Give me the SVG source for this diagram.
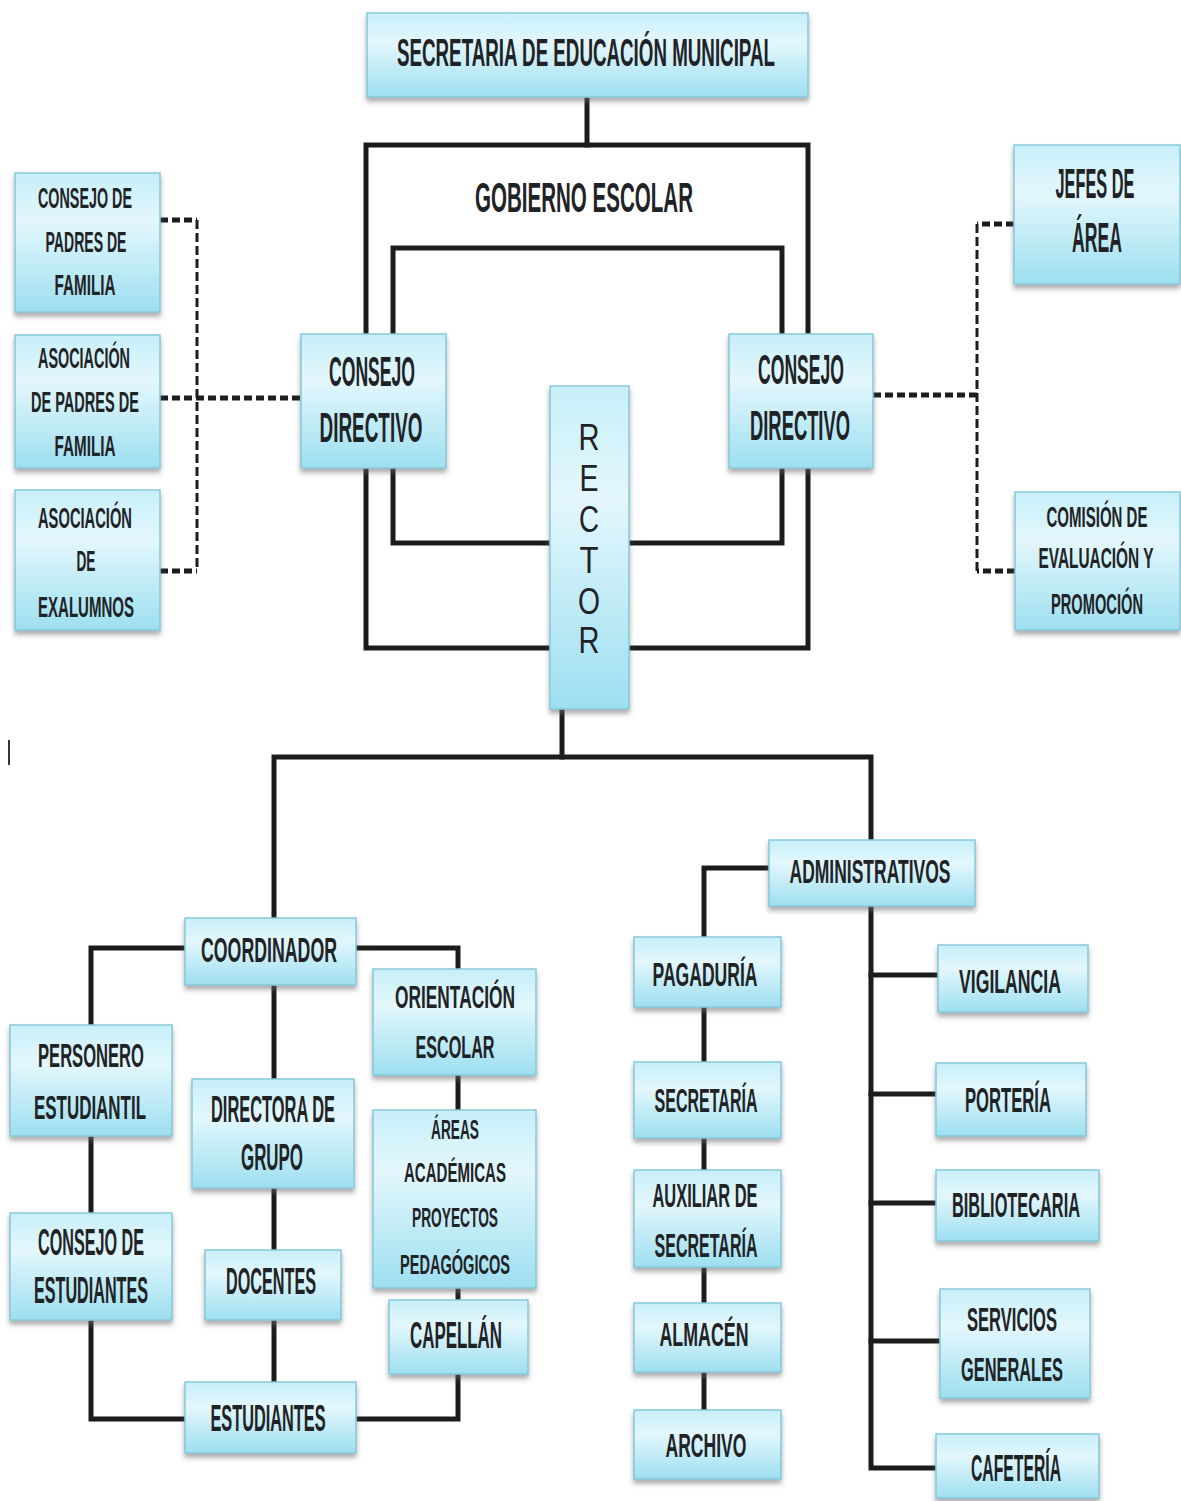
<svg xmlns="http://www.w3.org/2000/svg" width="1181" height="1501" viewBox="0 0 1181 1501">
<style>
.box{fill:url(#g);stroke:#86c9da;stroke-width:1.5;filter:url(#sh)}
.t{font-family:"Liberation Sans Narrow","Liberation Sans","DejaVu Sans Condensed",sans-serif;font-weight:bold;fill:#1f2326;text-anchor:middle}
.r{font-family:"Liberation Sans","DejaVu Sans",sans-serif;font-weight:normal;fill:#1f2326;text-anchor:middle;font-size:36px}
.ln{fill:none;stroke:#1c1c1c;stroke-width:5;stroke-linejoin:miter;stroke-linecap:square}
.dl{fill:none;stroke:#1c1c1c;stroke-width:5;stroke-dasharray:8 4}
.dv{fill:none;stroke:#1c1c1c;stroke-width:3;stroke-dasharray:9 4}
</style>
<defs>
<linearGradient id="g" x1="0" y1="0" x2="0" y2="1">
<stop offset="0" stop-color="#c8eff9"/>
<stop offset="0.35" stop-color="#e3f7fc"/>
<stop offset="1" stop-color="#9ddff0"/>
</linearGradient>
<filter id="sh" x="-10%" y="-10%" width="120%" height="130%">
<feDropShadow dx="0" dy="4" stdDeviation="2.5" flood-color="#6a6a6a" flood-opacity="0.55"/>
</filter>
</defs>
<rect width="1181" height="1501" fill="#ffffff"/>

<g id="connectors">
<path class="ln" d="M587 97 V145"/>
<path class="ln" d="M366 334 V145 H808 V334"/>
<path class="ln" d="M393 334 V248 H782 V334"/>
<path class="ln" d="M366 468 V648 H550"/>
<path class="ln" d="M393 468 V543 H550"/>
<path class="ln" d="M808 468 V648 H629"/>
<path class="ln" d="M782 468 V543 H629"/>
<path class="dl" d="M160 220 H197"/>
<path class="dl" d="M160 571 H197"/>
<path class="dv" d="M197 220 V571"/>
<path class="dl" d="M160 398 H301"/>
<path class="dl" d="M1014 224 H977"/>
<path class="dl" d="M1015 571 H977"/>
<path class="dv" d="M977 224 V571"/>
<path class="dl" d="M873 395 H977"/>
<path class="ln" d="M562 709 V757"/>
<path class="ln" d="M274 918 V757 H871 V840"/>
<path class="ln" d="M185 948 H91 V1025"/>
<path class="ln" d="M356 948 H458 V969"/>
<path class="ln" d="M274 985 V1079"/>
<path class="ln" d="M91 1136 V1213"/>
<path class="ln" d="M91 1320 V1419 H185"/>
<path class="ln" d="M356 1419 H458 V1374"/>
<path class="ln" d="M458 1075 V1110"/>
<path class="ln" d="M458 1288 V1300"/>
<path class="ln" d="M274 1188 V1250"/>
<path class="ln" d="M274 1320 V1382"/>
<path class="ln" d="M769 868 H704 V937"/>
<path class="ln" d="M704 1007 V1062"/>
<path class="ln" d="M704 1138 V1170"/>
<path class="ln" d="M704 1267 V1303"/>
<path class="ln" d="M704 1372 V1410"/>
<path class="ln" d="M871 906 V1468 H936"/>
<path class="ln" d="M871 975 H938"/>
<path class="ln" d="M871 1094 H936"/>
<path class="ln" d="M871 1203 H936"/>
<path class="ln" d="M871 1341 H940"/>
<path d="M9 740 V765" stroke="#333" stroke-width="2"/>
</g>

<g id="secretaria-educacion">
<rect class="box" x="367" y="13" width="441" height="84"/>
<text class="t" x="586" y="66" font-size="38" textLength="378" lengthAdjust="spacingAndGlyphs">SECRETARIA DE EDUCACIÓN MUNICIPAL</text>
</g>

<g id="gobierno-escolar">
<text class="t" x="584" y="212" font-size="42" textLength="218" lengthAdjust="spacingAndGlyphs">GOBIERNO ESCOLAR</text>
</g>

<g id="consejo-directivo-izq">
<rect class="box" x="301" y="334" width="145" height="134"/>
<text class="t" x="372" y="386" font-size="42" textLength="86" lengthAdjust="spacingAndGlyphs">CONSEJO</text>
<text class="t" x="371" y="442" font-size="42" textLength="103" lengthAdjust="spacingAndGlyphs">DIRECTIVO</text>
</g>

<g id="consejo-directivo-der">
<rect class="box" x="729" y="334" width="144" height="134"/>
<text class="t" x="801" y="384" font-size="42" textLength="86" lengthAdjust="spacingAndGlyphs">CONSEJO</text>
<text class="t" x="800" y="440" font-size="42" textLength="100" lengthAdjust="spacingAndGlyphs">DIRECTIVO</text>
</g>

<g id="rector">
<rect class="box" x="550" y="386" width="79" height="323"/>
<text class="r" x="589" y="450" textLength="21" lengthAdjust="spacingAndGlyphs">R</text>
<text class="r" x="589" y="491" textLength="19" lengthAdjust="spacingAndGlyphs">E</text>
<text class="r" x="589" y="532" textLength="20" lengthAdjust="spacingAndGlyphs">C</text>
<text class="r" x="589" y="573" textLength="19" lengthAdjust="spacingAndGlyphs">T</text>
<text class="r" x="589" y="614" textLength="22" lengthAdjust="spacingAndGlyphs">O</text>
<text class="r" x="589" y="653" textLength="21" lengthAdjust="spacingAndGlyphs">R</text>
</g>

<g id="consejo-padres">
<rect class="box" x="15" y="173" width="145" height="139"/>
<text class="t" x="85" y="208" font-size="29" textLength="94" lengthAdjust="spacingAndGlyphs">CONSEJO DE</text>
<text class="t" x="86" y="252" font-size="29" textLength="81" lengthAdjust="spacingAndGlyphs">PADRES DE</text>
<text class="t" x="85" y="295" font-size="29" textLength="61" lengthAdjust="spacingAndGlyphs">FAMILIA</text>
</g>

<g id="asociacion-padres">
<rect class="box" x="15" y="335" width="145" height="133"/>
<text class="t" x="84" y="368" font-size="29" textLength="92" lengthAdjust="spacingAndGlyphs">ASOCIACIÓN</text>
<text class="t" x="85" y="412" font-size="29" textLength="108" lengthAdjust="spacingAndGlyphs">DE PADRES DE</text>
<text class="t" x="85" y="456" font-size="29" textLength="61" lengthAdjust="spacingAndGlyphs">FAMILIA</text>
</g>

<g id="asociacion-exalumnos">
<rect class="box" x="15" y="490" width="145" height="140"/>
<text class="t" x="85" y="528" font-size="29" textLength="94" lengthAdjust="spacingAndGlyphs">ASOCIACIÓN</text>
<text class="t" x="86" y="571" font-size="29" textLength="19" lengthAdjust="spacingAndGlyphs">DE</text>
<text class="t" x="86" y="617" font-size="29" textLength="96" lengthAdjust="spacingAndGlyphs">EXALUMNOS</text>
</g>

<g id="jefes-area">
<rect class="box" x="1014" y="145" width="166" height="139"/>
<text class="t" x="1095" y="198" font-size="42" textLength="79" lengthAdjust="spacingAndGlyphs">JEFES DE</text>
<text class="t" x="1097" y="252" font-size="42" textLength="50" lengthAdjust="spacingAndGlyphs">ÁREA</text>
</g>

<g id="comision-evaluacion">
<rect class="box" x="1015" y="492" width="165" height="138"/>
<text class="t" x="1097" y="527" font-size="29" textLength="101" lengthAdjust="spacingAndGlyphs">COMISIÓN DE</text>
<text class="t" x="1096" y="568" font-size="29" textLength="115" lengthAdjust="spacingAndGlyphs">EVALUACIÓN Y</text>
<text class="t" x="1097" y="614" font-size="29" textLength="92" lengthAdjust="spacingAndGlyphs">PROMOCIÓN</text>
</g>

<g id="coordinador">
<rect class="box" x="185" y="918" width="171" height="67"/>
<text class="t" x="269" y="962" font-size="35" textLength="136" lengthAdjust="spacingAndGlyphs">COORDINADOR</text>
</g>

<g id="administrativos">
<rect class="box" x="769" y="840" width="206" height="66"/>
<text class="t" x="870" y="883" font-size="34" textLength="161" lengthAdjust="spacingAndGlyphs">ADMINISTRATIVOS</text>
</g>

<g id="personero">
<rect class="box" x="10" y="1025" width="162" height="111"/>
<text class="t" x="91" y="1067" font-size="33" textLength="106" lengthAdjust="spacingAndGlyphs">PERSONERO</text>
<text class="t" x="90" y="1119" font-size="33" textLength="112" lengthAdjust="spacingAndGlyphs">ESTUDIANTIL</text>
</g>

<g id="consejo-estudiantes">
<rect class="box" x="10" y="1213" width="162" height="107"/>
<text class="t" x="91" y="1255" font-size="36" textLength="106" lengthAdjust="spacingAndGlyphs">CONSEJO DE</text>
<text class="t" x="91" y="1303" font-size="36" textLength="114" lengthAdjust="spacingAndGlyphs">ESTUDIANTES</text>
</g>

<g id="directora-grupo">
<rect class="box" x="192" y="1079" width="162" height="109"/>
<text class="t" x="273" y="1122" font-size="36" textLength="124" lengthAdjust="spacingAndGlyphs">DIRECTORA DE</text>
<text class="t" x="272" y="1170" font-size="36" textLength="62" lengthAdjust="spacingAndGlyphs">GRUPO</text>
</g>

<g id="docentes">
<rect class="box" x="205" y="1250" width="136" height="70"/>
<text class="t" x="271" y="1294" font-size="36" textLength="90" lengthAdjust="spacingAndGlyphs">DOCENTES</text>
</g>

<g id="estudiantes">
<rect class="box" x="185" y="1382" width="171" height="71"/>
<text class="t" x="268" y="1431" font-size="36" textLength="115" lengthAdjust="spacingAndGlyphs">ESTUDIANTES</text>
</g>

<g id="orientacion-escolar">
<rect class="box" x="373" y="969" width="163" height="106"/>
<text class="t" x="455" y="1008" font-size="31" textLength="120" lengthAdjust="spacingAndGlyphs">ORIENTACIÓN</text>
<text class="t" x="455" y="1058" font-size="31" textLength="79" lengthAdjust="spacingAndGlyphs">ESCOLAR</text>
</g>

<g id="areas-academicas">
<rect class="box" x="373" y="1110" width="163" height="178"/>
<text class="t" x="455" y="1139" font-size="27" textLength="48" lengthAdjust="spacingAndGlyphs">ÁREAS</text>
<text class="t" x="455" y="1182" font-size="27" textLength="102" lengthAdjust="spacingAndGlyphs">ACADÉMICAS</text>
<text class="t" x="455" y="1227" font-size="27" textLength="86" lengthAdjust="spacingAndGlyphs">PROYECTOS</text>
<text class="t" x="455" y="1274" font-size="27" textLength="110" lengthAdjust="spacingAndGlyphs">PEDAGÓGICOS</text>
</g>

<g id="capellan">
<rect class="box" x="389" y="1300" width="139" height="74"/>
<text class="t" x="456" y="1348" font-size="36" textLength="92" lengthAdjust="spacingAndGlyphs">CAPELLÁN</text>
</g>

<g id="pagaduria">
<rect class="box" x="634" y="937" width="147" height="70"/>
<text class="t" x="705" y="986" font-size="33" textLength="105" lengthAdjust="spacingAndGlyphs">PAGADURÍA</text>
</g>

<g id="secretaria">
<rect class="box" x="634" y="1062" width="147" height="76"/>
<text class="t" x="706" y="1112" font-size="33" textLength="103" lengthAdjust="spacingAndGlyphs">SECRETARÍA</text>
</g>

<g id="auxiliar-secretaria">
<rect class="box" x="634" y="1170" width="147" height="97"/>
<text class="t" x="705" y="1207" font-size="33" textLength="105" lengthAdjust="spacingAndGlyphs">AUXILIAR DE</text>
<text class="t" x="706" y="1257" font-size="33" textLength="103" lengthAdjust="spacingAndGlyphs">SECRETARÍA</text>
</g>

<g id="almacen">
<rect class="box" x="634" y="1303" width="147" height="69"/>
<text class="t" x="704" y="1346" font-size="33" textLength="89" lengthAdjust="spacingAndGlyphs">ALMACÉN</text>
</g>

<g id="archivo">
<rect class="box" x="634" y="1410" width="147" height="69"/>
<text class="t" x="706" y="1457" font-size="33" textLength="81" lengthAdjust="spacingAndGlyphs">ARCHIVO</text>
</g>

<g id="vigilancia">
<rect class="box" x="938" y="945" width="150" height="67"/>
<text class="t" x="1010" y="993" font-size="33" textLength="102" lengthAdjust="spacingAndGlyphs">VIGILANCIA</text>
</g>

<g id="porteria">
<rect class="box" x="936" y="1063" width="150" height="73"/>
<text class="t" x="1008" y="1112" font-size="35" textLength="86" lengthAdjust="spacingAndGlyphs">PORTERÍA</text>
</g>

<g id="bibliotecaria">
<rect class="box" x="936" y="1170" width="163" height="71"/>
<text class="t" x="1016" y="1217" font-size="35" textLength="128" lengthAdjust="spacingAndGlyphs">BIBLIOTECARIA</text>
</g>

<g id="servicios-generales">
<rect class="box" x="940" y="1289" width="150" height="109"/>
<text class="t" x="1012" y="1331" font-size="33" textLength="90" lengthAdjust="spacingAndGlyphs">SERVICIOS</text>
<text class="t" x="1012" y="1381" font-size="33" textLength="102" lengthAdjust="spacingAndGlyphs">GENERALES</text>
</g>

<g id="cafeteria">
<rect class="box" x="936" y="1434" width="163" height="64"/>
<text class="t" x="1016" y="1481" font-size="36" textLength="90" lengthAdjust="spacingAndGlyphs">CAFETERÍA</text>
</g>
</svg>
